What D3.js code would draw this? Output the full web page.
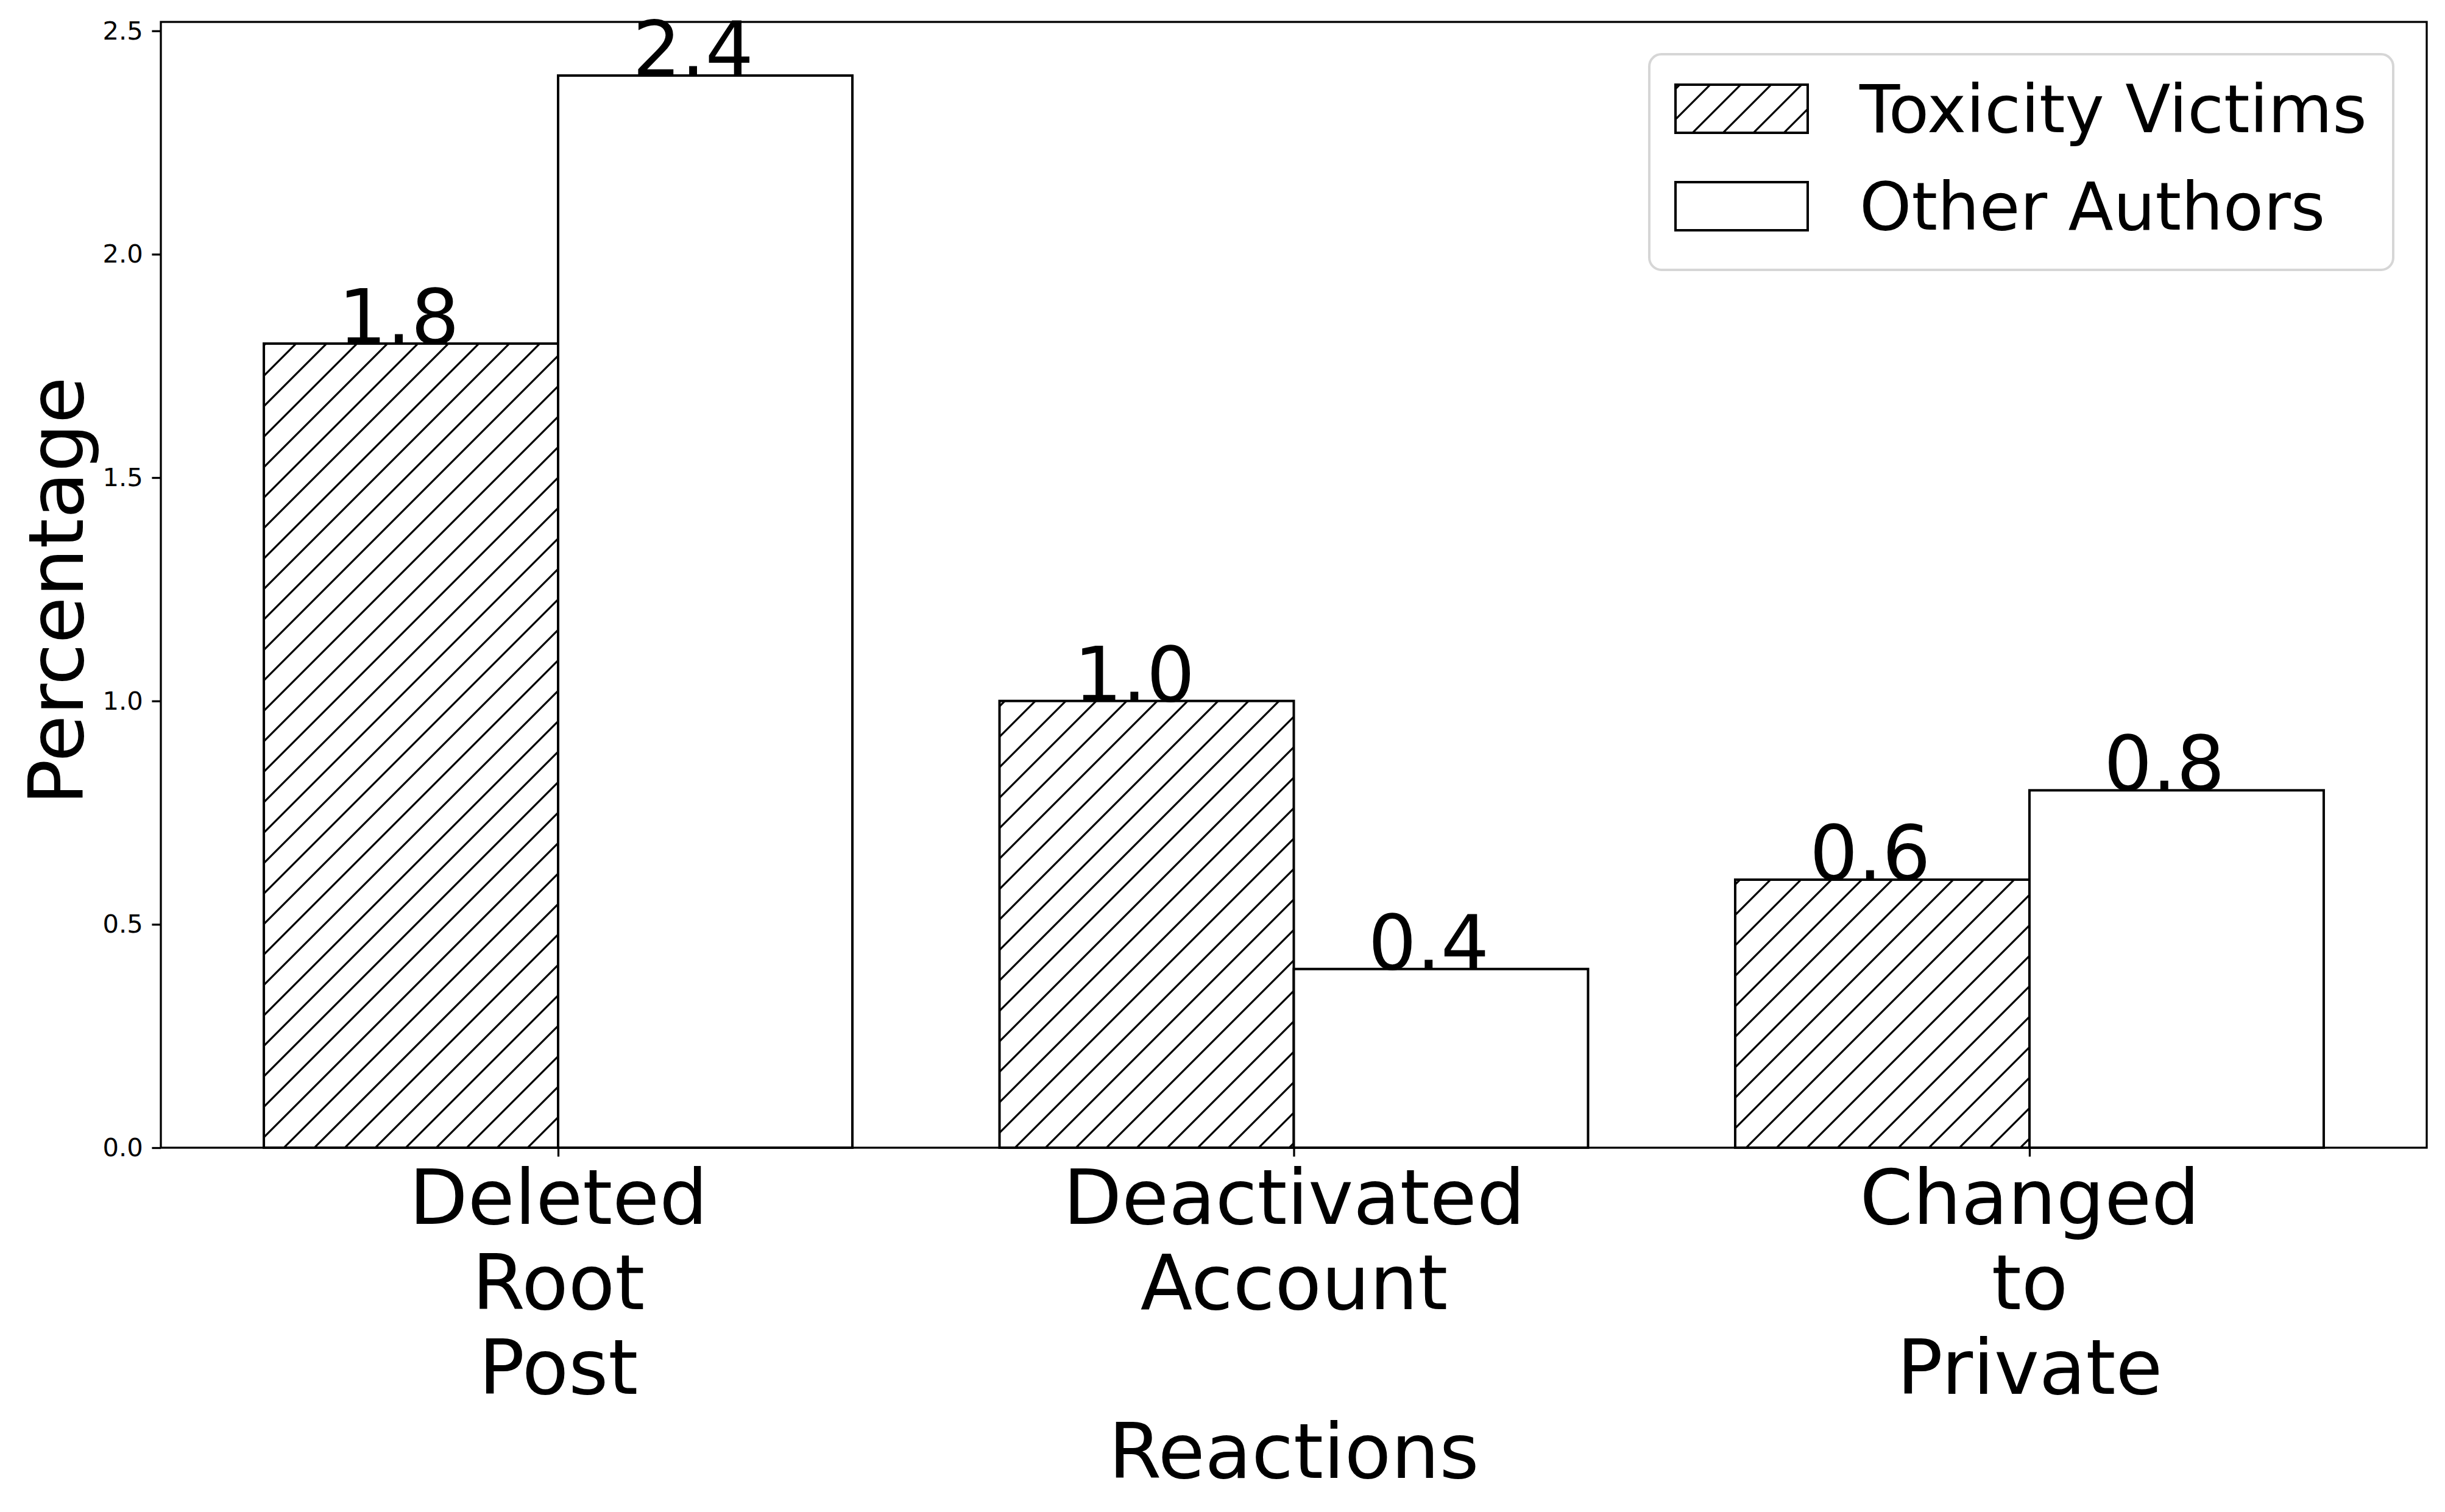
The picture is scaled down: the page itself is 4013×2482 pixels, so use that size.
<!DOCTYPE html>
<html>
<head>
<meta charset="utf-8">
<script src="https://cdn.jsdelivr.net/npm/d3@7"></script>
<style>
  body { margin: 0; background: #ffffff; }
  text { font-family: "DejaVu Sans", sans-serif; fill: #000; }
</style>
</head>
<body>
<div id="drawing"></div>
<script>
// data
const categories = ["Deleted\nRoot\nPost", "Deactivated\nAccount", "Changed\nto\nPrivate"];
const seriesNames = ["Toxicity Victims", "Other Authors"];
const toxicityVictims = [1.8, 1.0, 0.6];
const otherAuthors = [2.4, 0.4, 0.8];
const yTicks = [0.0, 0.5, 1.0, 1.5, 2.0, 2.5];

const width = 4013;
const height = 2482;
const margin = {top: 36, right: 30, bottom: 598, left: 264};
const innerW = width - margin.left - margin.right;
const innerH = height - margin.top - margin.bottom;

const barWidth = 0.4;
const tickLen = 14.6;
const tickPad = 14.6;
const bigFont = 125;
let svg, plot, x, y;

function setup(){
  svg = d3.select("#drawing").append("svg")
    .attr("width", width)
    .attr("height", height)
    .style("background", "#ffffff");

  // matplotlib style "/" hatch, 50px cell
  const pat = svg.append("defs").append("pattern")
    .attr("id", "hatch")
    .attr("patternUnits", "userSpaceOnUse")
    .attr("width", 50)
    .attr("height", 50);
  pat.append("rect").attr("width", 50).attr("height", 50).attr("fill", "#ffffff");
  pat.append("path")
    .attr("d", "M-5,5 L5,-5 M0,50 L50,0 M45,55 L55,45")
    .attr("stroke", "#000")
    .attr("stroke-width", 3.2);

  plot = svg.append("g")
    .attr("transform", `translate(${margin.left}, ${margin.top})`);

  x = d3.scaleLinear().domain([-0.54, categories.length - 1 + 0.54]).range([0, innerW]);
  y = d3.scaleLinear().domain([0, 2.52]).range([innerH, 0]);
}

function make(){
  const bars = [];
  categories.forEach((c, i) => {
    bars.push({i: i, x0: i - barWidth, v: toxicityVictims[i], fill: "url(#hatch)"});
    bars.push({i: i, x0: i, v: otherAuthors[i], fill: "#ffffff"});
  });

  plot.selectAll(".bar")
    .data(bars)
    .enter()
    .append("rect")
      .attr("class", "bar")
      .attr("x", d => x(d.x0))
      .attr("y", d => y(d.v))
      .attr("width", d => x(d.x0 + barWidth) - x(d.x0))
      .attr("height", d => y(0) - y(d.v))
      .style("fill", d => d.fill)
      .style("stroke", "#000")
      .style("stroke-width", 4);

  // y axis
  const yAxis = plot.append("g")
    .call(d3.axisLeft(y).tickValues(yTicks).tickFormat(d3.format(".1f"))
      .tickSize(tickLen).tickPadding(tickPad));
  yAxis.select(".domain").remove();
  yAxis.selectAll("line").attr("stroke", "#000").attr("stroke-width", 3.3);
  yAxis.selectAll("text")
    .style("font-family", "DejaVu Sans")
    .style("font-size", "41.7px")
    .attr("fill", "#000");

  // x axis with multi-line labels
  const xAxis = plot.append("g")
    .attr("transform", `translate(0, ${innerH})`)
    .call(d3.axisBottom(x).tickValues(d3.range(categories.length))
      .tickFormat(i => categories[i]).tickSize(tickLen).tickPadding(tickPad));
  xAxis.select(".domain").remove();
  xAxis.selectAll("line").attr("stroke", "#000").attr("stroke-width", 3.3);
  xAxis.selectAll("text").each(function(i){
    const t = d3.select(this);
    t.text(null)
      .attr("y", 0)
      .attr("dy", null)
      .style("font-family", "DejaVu Sans")
      .style("font-size", bigFont + "px")
      .attr("fill", "#000");
    categories[i].split("\n").forEach((line, k) => {
      t.append("tspan")
        .attr("x", 0)
        .attr("y", tickLen + tickPad + 96 + k * 139.5)
        .text(line);
    });
  });

  // value labels
  plot.selectAll(".vlabel")
    .data(bars)
    .enter()
    .append("text")
      .attr("class", "vlabel")
      .attr("x", d => x(d.x0 + barWidth / 2) - 20)
      .attr("y", d => y(d.v))
      .attr("text-anchor", "middle")
      .style("font-size", bigFont + "px")
      .text(d => d3.format(".1f")(d.v));

  // spines
  plot.append("rect")
    .attr("x", 0).attr("y", 0)
    .attr("width", innerW).attr("height", innerH)
    .attr("fill", "none")
    .attr("stroke", "#000")
    .attr("stroke-width", 3.3);

  // axis titles
  plot.append("text")
    .attr("x", innerW / 2)
    .attr("y", innerH + 542)
    .attr("text-anchor", "middle")
    .style("font-size", bigFont + "px")
    .text("Reactions");

  svg.append("text")
    .attr("transform", `translate(136, ${margin.top + innerH / 2 + 10}) rotate(-90)`)
    .attr("text-anchor", "middle")
    .style("font-size", bigFont + "px")
    .text("Percentage");

  // legend
  const legend = svg.append("g").attr("transform", "translate(2707, 89)");
  legend.append("rect")
    .attr("width", 1221).attr("height", 354)
    .attr("rx", 20).attr("ry", 20)
    .attr("fill", "#ffffff")
    .attr("stroke", "#d6d6d6")
    .attr("stroke-width", 4);
  const fills = ["url(#hatch)", "#ffffff"];
  seriesNames.forEach((name, k) => {
    const row = legend.append("g").attr("transform", `translate(0, ${k * 160})`);
    row.append("rect")
      .attr("x", 43).attr("y", 50)
      .attr("width", 217).attr("height", 79)
      .style("fill", fills[k])
      .style("stroke", "#000")
      .style("stroke-width", 4);
    row.append("text")
      .attr("x", 345).attr("y", 128)
      .style("font-size", "108.5px")
      .text(name);
  });
}

setup();
make();
</script>
</body>
</html>
